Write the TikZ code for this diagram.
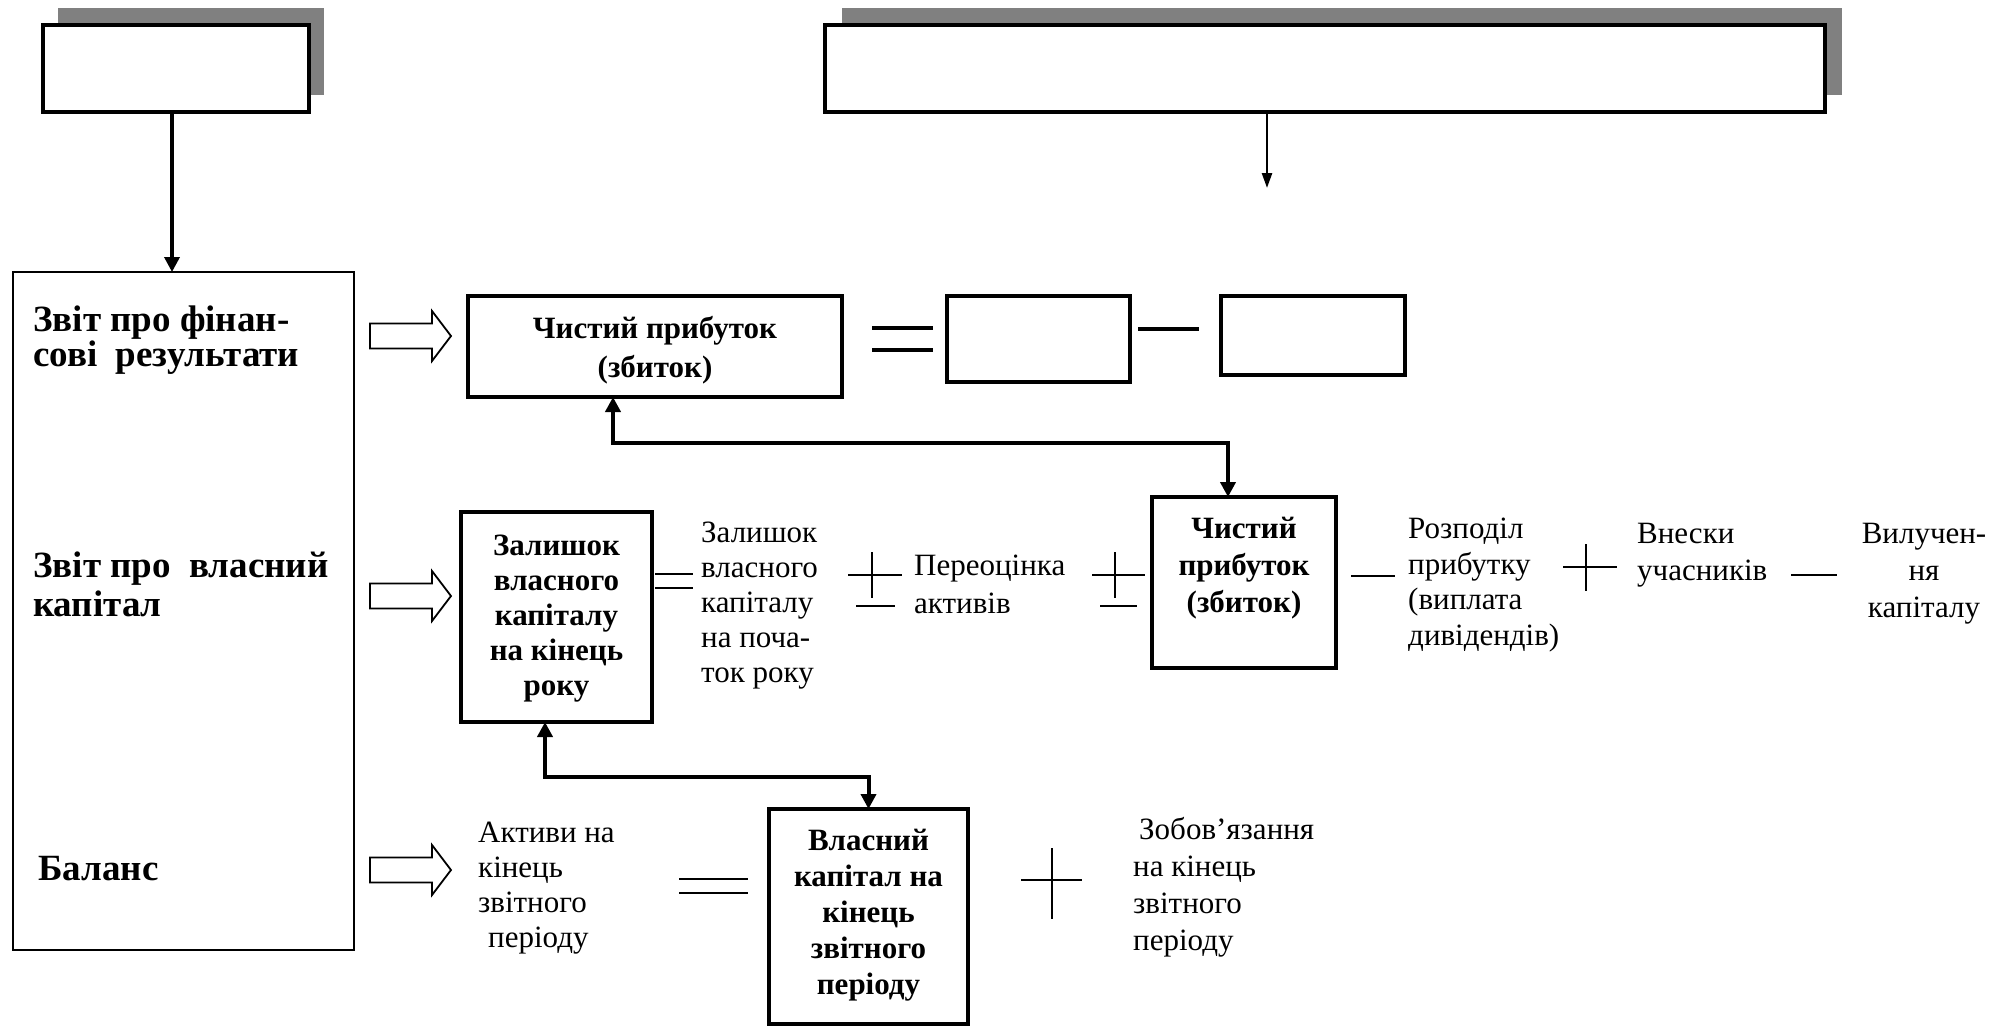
\documentclass[tikz,border=0pt]{standalone}
\usepackage{fontspec}
\setmainfont{Liberation Serif}
\usetikzlibrary{arrows.meta,backgrounds}
\definecolor{shadowgray}{RGB}{128,128,128}
\begin{document}
\begin{tikzpicture}[x=1pt,y=-1pt,
  thickbox/.style={draw, line width=4pt, fill=white, inner sep=0pt, outer sep=0pt},
  midbox/.style={draw, line width=3.5pt, fill=white, inner sep=0pt, outer sep=0pt},
  thinbox/.style={draw, line width=2pt, fill=white, inner sep=0pt, outer sep=0pt},
  bt/.style={font=\bfseries\fontsize{31pt}{36pt}\selectfont, align=center, inner sep=0pt, anchor=base},
  rt/.style={font=\fontsize{31pt}{36.5pt}\selectfont, align=left, inner sep=0pt, anchor=base west},
  lt/.style={font=\bfseries\fontsize{37pt}{36pt}\selectfont, align=left, inner sep=0pt, anchor=base west},
  conn/.style={line width=4pt, {Triangle[length=15pt,width=15pt]}-{Triangle[length=15pt,width=15pt]}},
  downarrow/.style={line width=3.5pt, -{Triangle[length=15pt,width=15pt]}},
  slimarrow/.style={line width=2.5pt, -{Triangle[length=15pt,width=10pt]}},
  sign/.style={line width=2pt},
  boldsign/.style={line width=4pt},
  hollow/.style={draw, line width=1.8pt, fill=white, line join=miter}
]
\useasboundingbox (0,0) rectangle (1993,1026);

% top boxes
\node[thickbox, minimum width=266pt, minimum height=87pt] (TL) at (176,68.5) {};
\node[thickbox, minimum width=1000pt, minimum height=87pt] (TR) at (1325,68.5) {};

% left big box
\node[thinbox, minimum width=341pt, minimum height=678pt] (L) at (183.5,611) {};

% boxes of the first row
\node[thickbox, minimum width=374pt, minimum height=101pt] (B1) at (655,346.5) {};
\node[midbox, minimum width=183pt, minimum height=86pt] (B2) at (1038.5,339) {};
\node[midbox, minimum width=184pt, minimum height=79pt] (B3) at (1313,335.5) {};

% boxes of the second and third rows
\node[thickbox, minimum width=191pt, minimum height=210pt] (Z) at (556.5,617) {};
\node[thickbox, minimum width=184pt, minimum height=171pt] (M) at (1244,582.5) {};
\node[thickbox, minimum width=199pt, minimum height=215pt] (V) at (868.5,916.5) {};

% shadows
\begin{scope}[on background layer]
  \fill[white] (0,0) rectangle (1993,1026);
  \fill[shadowgray] ([xshift=15pt,yshift=17pt]TL.south west) rectangle ([xshift=15pt,yshift=17pt]TL.north east);
  \fill[shadowgray] ([xshift=17pt,yshift=17pt]TR.south west) rectangle ([xshift=17pt,yshift=17pt]TR.north east);
\end{scope}

% texts in the left box (anchor = baseline of the last line)
\node[lt, font=\bfseries\fontsize{37pt}{33pt}\selectfont] (L1) at (33,366) {Звіт про фінан-\\сові\ \ результати};
\node[lt, font=\bfseries\fontsize{37pt}{39pt}\selectfont] (L2) at (33,616) {Звіт про\ \ власний\\капітал};
\node[lt] (L3) at (38,880) {Баланс};

% texts in boxes
\node[bt, font=\bfseries\fontsize{31pt}{39pt}\selectfont] (B1t) at (655,377) {Чистий прибуток\\(збиток)};
\node[bt, font=\bfseries\fontsize{31pt}{37pt}\selectfont] (Mt) at (1244,612) {Чистий\\прибуток\\(збиток)};
\node[bt, font=\bfseries\fontsize{31pt}{35pt}\selectfont] (Zt) at (556.5,695) {Залишок\\власного\\капіталу\\на кінець\\року};
\node[bt] (Vt) at (868.5,994) {Власний\\капітал на\\кінець\\звітного\\періоду};

% plain texts
\node[rt, font=\fontsize{31pt}{35pt}\selectfont] (R1) at (701,682) {Залишок\\власного\\капіталу\\на поча-\\ток року};
\node[rt, font=\fontsize{31pt}{38pt}\selectfont] (R2) at (914,613) {Переоцінка\\активів};
\node[rt, font=\fontsize{31pt}{35.5pt}\selectfont] (R3) at (1408,645) {Розподіл\\прибутку\\(виплата\\дивідендів)};
\node[rt, font=\fontsize{31pt}{37pt}\selectfont] (R4) at (1637,580) {Внески\\учасників};
\node[rt, anchor=base, align=center, font=\fontsize{31pt}{37pt}\selectfont] (R5) at (1924,617) {Вилучен-\\ня\\капіталу};
\node[rt, font=\fontsize{31pt}{35pt}\selectfont] (R6) at (478,947) {Активи на\\кінець\\звітного\\\hspace*{10pt}періоду};
\node[rt, font=\fontsize{31pt}{36.7pt}\selectfont] (R7) at (1133,950) {\hspace*{6pt}Зобов’язання\\на кінець\\звітного\\періоду};

% arrows from the top boxes
\draw[downarrow] ([xshift=-4pt]TL.south) -- ([xshift=-4pt]TL.south |- L.north);
\coordinate (TRend) at (1267,188);
\draw[slimarrow] (TRend |- TR.south) -- (TRend);

% two-headed connectors
\draw[conn] ([xshift=-42pt]B1.south) -- ++(0,46) -| ([xshift=-16pt]M.north);
\draw[conn] ([xshift=-11.5pt]Z.south) -- ++(0,55) -| (V.north);

% hollow arrows
\foreach \yy in {336,596,870}{
  \draw[hollow] (370,\yy-12.5) -- (432,\yy-12.5) -- (432,\yy-25) -- (451,\yy)
    -- (432,\yy+25) -- (432,\yy+12.5) -- (370,\yy+12.5) -- cycle;
}

% signs, first row
\draw[boldsign] (872,328) -- (933,328) (872,350) -- (933,350);
\draw[boldsign] (1138,329) -- (1199,329);

% signs, second row
\draw[sign] (655,574) -- (693,574) (655,588) -- (693,588);
\draw[sign] (848,575) -- (902,575) (872,552) -- (872,598) (856,606) -- (895,606);
\draw[sign] (1092,575) -- (1145,575) (1115,552) -- (1115,598) (1100,606) -- (1137,606);
\draw[sign] (1351,576) -- (1395,576);
\draw[sign] (1563,567) -- (1617,567) (1586,544) -- (1586,591);
\draw[sign] (1791,575) -- (1837,575);

% signs, third row
\draw[sign] (679,879) -- (748,879) (679,893) -- (748,893);
\draw[sign] (1021,880) -- (1082,880) (1052,848) -- (1052,919);
\end{tikzpicture}
\end{document}
